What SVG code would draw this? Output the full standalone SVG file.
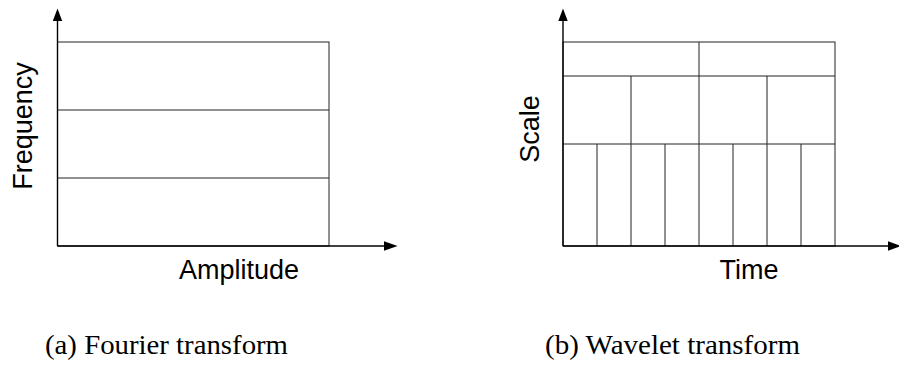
<svg xmlns="http://www.w3.org/2000/svg" width="899" height="374" viewBox="0 0 899 374">
<style>
.axis{stroke:#000;stroke-width:1.4;fill:none}
.grid{stroke:#222;stroke-width:1;fill:none}
.head{fill:#000;stroke:none}
.lbl{font-family:"Liberation Sans",Arial,sans-serif;font-size:27px;fill:#000;text-anchor:middle}
.cap{font-family:"Liberation Serif","Times New Roman",serif;font-size:28px;fill:#000}
</style>
<rect width="899" height="374" fill="#fff"/>
<g id="fourier-grid">
<rect class="grid" x="57.5" y="42" width="271.5" height="204"/>
<line class="grid" x1="57.5" y1="110" x2="329" y2="110"/>
<line class="grid" x1="57.5" y1="178" x2="329" y2="178"/>
</g>
<g id="wavelet-grid">
<rect class="grid" x="563" y="42" width="272" height="204"/>
<line class="grid" x1="563" y1="76" x2="835" y2="76"/>
<line class="grid" x1="563" y1="144" x2="835" y2="144"/>
<line class="grid" x1="699" y1="42" x2="699" y2="246"/>
<line class="grid" x1="631" y1="76" x2="631" y2="246"/>
<line class="grid" x1="767" y1="76" x2="767" y2="246"/>
<line class="grid" x1="597" y1="144" x2="597" y2="246"/>
<line class="grid" x1="665" y1="144" x2="665" y2="246"/>
<line class="grid" x1="733" y1="144" x2="733" y2="246"/>
<line class="grid" x1="801" y1="144" x2="801" y2="246"/>
</g>
<g id="connectors">
<line class="axis" x1="57.5" y1="246" x2="57.5" y2="18"/>
<polygon class="head" points="57.5,8.5 52.8,21 62.2,21"/>
<line class="axis" x1="57.5" y1="246" x2="386" y2="246"/>
<polygon class="head" points="397.5,246 384,241.3 384,250.7"/>
<line class="axis" x1="563" y1="246" x2="563" y2="18"/>
<polygon class="head" points="563,8.5 558.3,21 567.7,21"/>
<line class="axis" x1="563" y1="246" x2="890" y2="246"/>
<polygon class="head" points="901,246 888,241.3 888,250.7"/>
</g>
<g id="labels">
<text class="lbl" x="32" y="126" transform="rotate(-90 32 126)">Frequency</text>
<text class="lbl" x="239" y="279">Amplitude</text>
<text class="lbl" x="539" y="129" transform="rotate(-90 539 129)">Scale</text>
<text class="lbl" x="749" y="279">Time</text>
<text class="cap" x="45" y="354" textLength="243" lengthAdjust="spacingAndGlyphs">(a) Fourier transform</text>
<text class="cap" x="545" y="354" textLength="255" lengthAdjust="spacingAndGlyphs">(b) Wavelet transform</text>
</g>
</svg>
